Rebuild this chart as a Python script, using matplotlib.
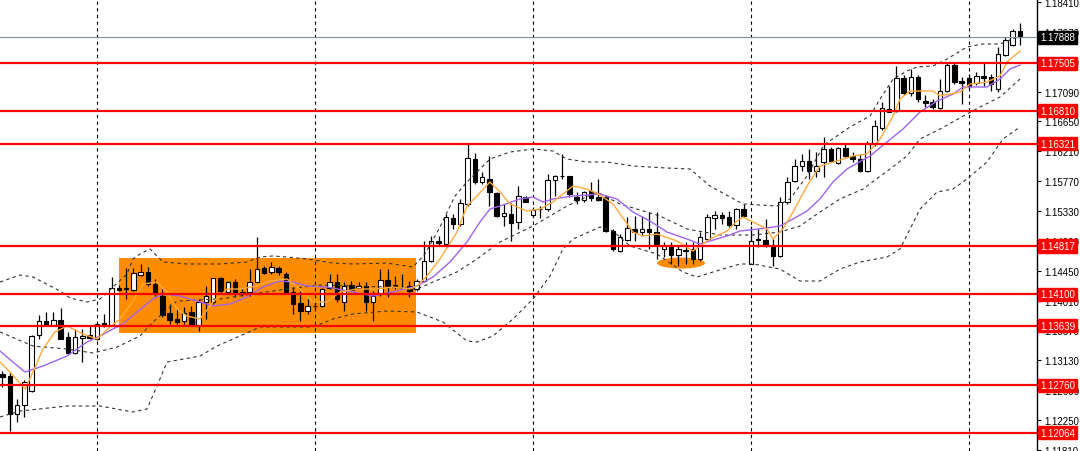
import matplotlib
matplotlib.use('Agg')
import matplotlib.pyplot as plt
import matplotlib.transforms as mtransforms
from matplotlib.patches import Rectangle, Ellipse
import numpy as np

# candle data (EURUSD style quotes), one entry per bar
opens = [1.12928, 1.12898, 1.12338, 1.12471, 1.12677, 1.13502, 1.13709, 1.13654, 1.13723, 1.13473,
         1.13237, 1.13458, 1.13502, 1.13443, 1.13679, 1.13650, 1.14202, 1.14180, 1.14170, 1.14387,
         1.14435, 1.14254, 1.14077, 1.13827, 1.13738, 1.13713, 1.13841, 1.13650, 1.13989, 1.13989,
         1.14342, 1.14140, 1.14288, 1.14107, 1.14136, 1.14288, 1.14485, 1.14426, 1.14490, 1.14401,
         1.14132, 1.13974, 1.13860, 1.13937, 1.13934, 1.14191, 1.14279, 1.13993, 1.14239, 1.14195,
         1.14229, 1.13993, 1.14107, 1.14317, 1.14239, 1.14195, 1.14220, 1.14180, 1.14303, 1.14597,
         1.14892, 1.14843, 1.15222, 1.15138, 1.15433, 1.16096, 1.15762, 1.15801, 1.15595, 1.15252,
         1.15286, 1.15163, 1.15541, 1.15271, 1.15355, 1.15359, 1.15791, 1.15841, 1.15850, 1.15532,
         1.15496, 1.15629, 1.15532, 1.15532, 1.15039, 1.14745, 1.14907, 1.15065, 1.15016, 1.15065,
         1.15025, 1.14770, 1.14795, 1.14681, 1.14748, 1.14770, 1.14622, 1.14917, 1.15231, 1.15271,
         1.15237, 1.15123, 1.15359, 1.14549, 1.14910, 1.14907, 1.14818, 1.14671, 1.15458, 1.15776,
         1.15997, 1.16071, 1.15924, 1.16047, 1.16243, 1.16037, 1.16254, 1.16136, 1.16096, 1.15924,
         1.16317, 1.16549, 1.16793, 1.16808, 1.17285, 1.17069, 1.17300, 1.16955, 1.16932, 1.16843,
         1.17103, 1.17481, 1.17250, 1.17285, 1.17216, 1.17315, 1.17300, 1.17128, 1.17629, 1.17776,
         1.17987]
highs = [1.12972, 1.12957, 1.12559, 1.12839, 1.13502, 1.13797, 1.13841, 1.13841, 1.13900, 1.13547,
         1.13591, 1.13591, 1.13650, 1.13679, 1.13812, 1.14357, 1.14239, 1.14490, 1.14490, 1.14549,
         1.14504, 1.14328, 1.14180, 1.13959, 1.13886, 1.13915, 1.13930, 1.14033, 1.14225, 1.14342,
         1.14357, 1.14303, 1.14328, 1.14180, 1.14475, 1.14947, 1.14524, 1.14574, 1.14524, 1.14431,
         1.14210, 1.14155, 1.14033, 1.13989, 1.14191, 1.14401, 1.14401, 1.14279, 1.14303, 1.14279,
         1.14279, 1.14155, 1.14475, 1.14475, 1.14376, 1.14401, 1.14303, 1.14328, 1.14892, 1.14957,
         1.14966, 1.15286, 1.15286, 1.15507, 1.16317, 1.16185, 1.15900, 1.16145, 1.15605, 1.15433,
         1.15448, 1.15694, 1.15555, 1.15384, 1.15408, 1.15875, 1.15860, 1.16170, 1.15850, 1.15605,
         1.15629, 1.15753, 1.15801, 1.15555, 1.15065, 1.14991, 1.15237, 1.15261, 1.15261, 1.15311,
         1.15311, 1.14869, 1.14869, 1.14818, 1.14869, 1.14869, 1.15016, 1.15286, 1.15334, 1.15311,
         1.15334, 1.15370, 1.15433, 1.15113, 1.15065, 1.15212, 1.14917, 1.15532, 1.15826, 1.16096,
         1.16170, 1.16243, 1.16195, 1.16416, 1.16269, 1.16269, 1.16317, 1.16195, 1.16170, 1.16366,
         1.16675, 1.16932, 1.17176, 1.17471, 1.17334, 1.17422, 1.17334, 1.17039, 1.16980, 1.17275,
         1.17521, 1.17521, 1.17300, 1.17349, 1.17374, 1.17521, 1.17349, 1.17742, 1.17890, 1.18012,
         1.18100]
lows = [1.12736, 1.12088, 1.12220, 1.12294, 1.12662, 1.13443, 1.13635, 1.13650, 1.13443, 1.13222,
        1.13222, 1.13105, 1.13443, 1.13429, 1.13620, 1.13635, 1.14151, 1.14033, 1.14151, 1.14372,
        1.14225, 1.14077, 1.13768, 1.13665, 1.13665, 1.13665, 1.13650, 1.13561, 1.13738, 1.13959,
        1.14107, 1.14132, 1.14062, 1.14082, 1.14082, 1.14283, 1.14401, 1.14401, 1.14387, 1.14121,
        1.13812, 1.13713, 1.13812, 1.13886, 1.13911, 1.14180, 1.13989, 1.13860, 1.14155, 1.14180,
        1.13860, 1.13713, 1.14082, 1.14058, 1.14180, 1.14180, 1.14058, 1.14155, 1.14283, 1.14574,
        1.14818, 1.14818, 1.15065, 1.15113, 1.15408, 1.15728, 1.15728, 1.15408, 1.15237, 1.15113,
        1.14892, 1.15065, 1.15458, 1.15237, 1.15222, 1.15334, 1.15555, 1.15801, 1.15532, 1.15433,
        1.15458, 1.15482, 1.15482, 1.15016, 1.14745, 1.14721, 1.14892, 1.14892, 1.14966, 1.14770,
        1.14622, 1.14647, 1.14549, 1.14524, 1.14549, 1.14549, 1.14597, 1.14892, 1.15065, 1.15138,
        1.15090, 1.15065, 1.15237, 1.14549, 1.14795, 1.14795, 1.14524, 1.14647, 1.15433, 1.15753,
        1.15924, 1.15801, 1.15826, 1.15826, 1.16047, 1.16022, 1.16121, 1.16047, 1.15900, 1.15900,
        1.16292, 1.16528, 1.16784, 1.16784, 1.17039, 1.17020, 1.16941, 1.16858, 1.16833, 1.16833,
        1.17079, 1.17201, 1.16907, 1.17128, 1.17187, 1.17176, 1.17103, 1.17088, 1.17610, 1.17766,
        1.17776]
closes = [1.12883, 1.12338, 1.12471, 1.12810, 1.13488, 1.13709, 1.13650, 1.13719, 1.13443, 1.13237,
          1.13473, 1.13488, 1.13458, 1.13665, 1.13635, 1.14195, 1.14170, 1.14195, 1.14416, 1.14435,
          1.14254, 1.14107, 1.13797, 1.13723, 1.13694, 1.13827, 1.13650, 1.13993, 1.14077, 1.14342,
          1.14151, 1.14288, 1.14107, 1.14140, 1.14283, 1.14475, 1.14416, 1.14500, 1.14431, 1.14132,
          1.13959, 1.13860, 1.13925, 1.13934, 1.14180, 1.14279, 1.14033, 1.14229, 1.14170, 1.14229,
          1.13993, 1.14073, 1.14317, 1.14229, 1.14229, 1.14191, 1.14155, 1.14303, 1.14597, 1.14892,
          1.14858, 1.15237, 1.15138, 1.15448, 1.16106, 1.15762, 1.15826, 1.15605, 1.15252, 1.15300,
          1.15153, 1.15546, 1.15467, 1.15349, 1.15359, 1.15791, 1.15841, 1.15845, 1.15580, 1.15496,
          1.15605, 1.15517, 1.15496, 1.15039, 1.14770, 1.14942, 1.15075, 1.15016, 1.15065, 1.15025,
          1.14843, 1.14810, 1.14681, 1.14770, 1.14745, 1.14622, 1.14942, 1.15237, 1.15271, 1.15231,
          1.15123, 1.15359, 1.15261, 1.14892, 1.14907, 1.14818, 1.14671, 1.15458, 1.15762, 1.15997,
          1.16071, 1.15924, 1.15997, 1.16243, 1.16071, 1.16254, 1.16145, 1.16096, 1.15924, 1.16317,
          1.16587, 1.16843, 1.16833, 1.17285, 1.17069, 1.17300, 1.16980, 1.16921, 1.16858, 1.17103,
          1.17481, 1.17226, 1.17216, 1.17176, 1.17315, 1.17285, 1.17201, 1.17644, 1.17854, 1.17987,
          1.17888]

# bollinger bands (dashed), x in bar numbers
upper_idx = [-0.34, 2.41, 4.20, 7.91, 9.29, 11.63, 13.42, 15.21, 17.13, 17.96, 18.92, 20.30, 22.09, 25.39,
             29.93, 33.64, 35.43, 37.22, 39.15, 41.90, 45.48, 48.23, 52.91, 56.49, 58.14, 60.20, 62.27,
             63.92, 67.08, 69.84, 73.00, 75.75, 77.68, 80.43, 83.18, 86.76, 91.44, 94.61, 97.36, 101.90,
             106.58, 108.37, 110.71, 113.0, 116.62, 119.38, 120.76, 122.55, 124.47, 125.85, 128.06,
             129.98, 132.73, 134.93, 137.27, 140.02]
upper_val = [1.14283, 1.14387, 1.14357, 1.14151, 1.14048, 1.13989, 1.14033, 1.14210, 1.14401, 1.14622,
             1.14696, 1.14770, 1.14578, 1.14549, 1.14549, 1.14578, 1.14652, 1.14667, 1.14652, 1.14622,
             1.14563, 1.14549, 1.14563, 1.14504, 1.14696, 1.15094, 1.15551, 1.15757, 1.16096, 1.16199,
             1.16243, 1.16214, 1.16096, 1.16052, 1.16052, 1.15993, 1.15963, 1.15949, 1.15698, 1.15433,
             1.15403, 1.15507, 1.15845, 1.16300, 1.16568, 1.16730, 1.16980, 1.17275, 1.17393, 1.17452,
             1.17467, 1.17570, 1.17747, 1.17791, 1.17791, 1.17909]
mid_idx = [-0.34, 4.20, 8.88, 12.45, 15.76, 18.92, 20.71, 24.01, 29.93, 34.47, 39.15, 43.69, 48.23, 52.91,
           57.04, 59.24, 62.54, 65.29, 68.46, 73.00, 77.68, 81.81, 84.97, 90.48, 94.19, 98.74, 103.28,
           106.99, 109.74, 112.49, 115.25, 118.42, 122.13, 124.47, 126.27, 129.02, 132.73, 134.52,
           137.27, 140.02]
mid_val = [1.13547, 1.13340, 1.13296, 1.13237, 1.13325, 1.13488, 1.13694, 1.14003, 1.14033, 1.14107,
           1.14180, 1.14239, 1.14225, 1.14210, 1.14180, 1.14283, 1.14431, 1.14622, 1.14873, 1.15109,
           1.15403, 1.15610, 1.15433, 1.15256, 1.15065, 1.14976, 1.14976, 1.15020, 1.15109, 1.15315,
           1.15507, 1.15654, 1.15949, 1.16140, 1.16391, 1.16538, 1.16759, 1.16862, 1.17010, 1.17275]
lower_idx = [-0.34, 2.41, 8.88, 13.42, 17.96, 19.88, 21.26, 22.64, 27.18, 29.52, 31.72, 35.43, 42.73,
             45.48, 48.23, 52.91, 57.04, 60.62, 63.92, 65.29, 67.50, 70.25, 73.00, 75.34, 77.13, 78.51,
             82.22, 84.01, 86.35, 90.07, 93.64, 95.57, 97.77, 101.49, 103.28, 106.99, 109.74, 112.49,
             115.25, 118.00, 121.72, 123.51, 124.89, 126.27, 128.61, 130.81, 132.73, 135.48, 137.68,
             140.02]
lower_val = [1.12294, 1.12382, 1.12456, 1.12456, 1.12368, 1.12412, 1.12751, 1.13104, 1.13193, 1.13340,
             1.13443, 1.13620, 1.13620, 1.13738, 1.13812, 1.13856, 1.13841, 1.13694, 1.13414, 1.13399,
             1.13488, 1.13738, 1.14033, 1.14372, 1.14770, 1.14917, 1.15094, 1.15035, 1.14814, 1.14696,
             1.14431, 1.14357, 1.14431, 1.14549, 1.14549, 1.14475, 1.14298, 1.14298, 1.14475, 1.14578,
             1.14652, 1.14770, 1.15065, 1.15359, 1.15610, 1.15654, 1.15801, 1.16052, 1.16391, 1.16568]

# slow (purple) and fast (orange) moving averages
slow_idx = [-0.34, 1.44, 3.10, 5.57, 8.88, 11.63, 13.42, 15.21, 16.58, 18.51, 20.71, 22.09, 24.43, 26.77,
            28.97, 31.31, 33.64, 35.85, 38.19, 39.97, 41.90, 44.65, 48.23, 50.98, 54.28, 57.04, 59.24,
            61.58, 63.92, 65.71, 67.08, 68.46, 71.21, 73.00, 74.38, 75.75, 78.51, 82.22, 84.56, 86.76,
            89.10, 91.44, 94.19, 95.98, 97.36, 99.70, 101.49, 105.20, 106.99, 108.78, 110.71, 112.49,
            114.28, 116.21, 119.38, 121.72, 123.92, 126.27, 128.61, 130.81, 132.18, 135.48, 137.27,
            138.64, 140.02]
slow_val = [1.13266, 1.13104, 1.12957, 1.13045, 1.13193, 1.13399, 1.13488, 1.13591, 1.13665, 1.13841,
            1.14033, 1.14107, 1.14077, 1.14003, 1.13930, 1.13959, 1.14062, 1.14210, 1.14298, 1.14283,
            1.14225, 1.14210, 1.14136, 1.14077, 1.14151, 1.14225, 1.14357, 1.14578, 1.14873, 1.15168,
            1.15359, 1.15403, 1.15507, 1.15536, 1.15462, 1.15507, 1.15551, 1.15580, 1.15507, 1.15315,
            1.15182, 1.15020, 1.14917, 1.14843, 1.14888, 1.14961, 1.15035, 1.15079, 1.15109, 1.15212,
            1.15330, 1.15507, 1.15757, 1.15949, 1.16140, 1.16347, 1.16538, 1.16789, 1.16951, 1.17054,
            1.17157, 1.17157, 1.17275, 1.17422, 1.17481]
fast_idx = [-0.34, 1.03, 3.10, 4.20, 5.57, 7.22, 8.88, 11.08, 13.00, 14.79, 16.17, 17.96, 19.33, 21.26,
            22.64, 24.01, 25.39, 27.18, 28.97, 30.89, 32.68, 35.02, 36.81, 39.15, 40.94, 42.73, 44.65,
            46.44, 48.78, 51.53, 53.73, 56.08, 57.04, 58.41, 60.20, 62.54, 63.92, 65.29, 67.08, 68.46,
            69.84, 72.18, 73.97, 75.75, 78.51, 80.43, 82.22, 84.01, 86.76, 88.14, 90.07, 92.82, 95.02,
            95.98, 97.36, 99.70, 101.07, 101.90, 103.28, 105.20, 106.03, 107.40, 108.78, 110.71, 112.49,
            114.83, 117.04, 118.97, 120.76, 122.55, 123.51, 124.89, 128.06, 129.02, 131.77, 133.14,
            135.48, 137.27, 138.23, 140.02]
fast_val = [1.13104, 1.12957, 1.12707, 1.12957, 1.13296, 1.13547, 1.13635, 1.13517, 1.13443, 1.13620,
            1.13738, 1.14003, 1.14254, 1.14283, 1.14136, 1.13886, 1.13782, 1.13738, 1.13989, 1.14180,
            1.14180, 1.14225, 1.14298, 1.14328, 1.14180, 1.13989, 1.13989, 1.14136, 1.14180, 1.14180,
            1.14210, 1.14180, 1.14225, 1.14372, 1.14622, 1.15020, 1.15403, 1.15551, 1.15757, 1.15610,
            1.15433, 1.15330, 1.15359, 1.15462, 1.15698, 1.15654, 1.15566, 1.15433, 1.15020, 1.14961,
            1.14991, 1.14888, 1.14740, 1.14814, 1.14917, 1.15035, 1.15182, 1.15241, 1.15168, 1.15065,
            1.14917, 1.15065, 1.15315, 1.15698, 1.15993, 1.16067, 1.16140, 1.16170, 1.16391, 1.16730,
            1.16980, 1.17098, 1.17098, 1.17025, 1.17083, 1.17201, 1.17231, 1.17319, 1.17526, 1.17688]

levels = [1.17505, 1.16810, 1.16321, 1.14817, 1.14100, 1.13639, 1.12760, 1.12064]
last_price = 1.17888
y_ticks = [1.18410, 1.17970, 1.17530, 1.17090, 1.16650, 1.16210, 1.15770, 1.15330,
           1.14890, 1.14450, 1.14010, 1.13570, 1.13130, 1.12690, 1.12250, 1.11810]
separators = [13, 43, 73, 103, 133]

# highlighted range box and the marked low
range_bars = (16.03, 56.90)
range_prices = (1.13532, 1.14637)
low_mark = (93.37, 1.14563)


def main():
    plt.rcParams['font.family'] = ['Liberation Sans', 'DejaVu Sans']
    fig = plt.figure(figsize=(10.8, 4.52), dpi=100)
    ax = fig.add_axes([0, 0, 1037 / 1080, 1])
    ax.set_xlim(-0.344, 142.36)
    ax.set_ylim(1.11793, 1.18454)

    ax.add_patch(Rectangle((range_bars[0], range_prices[0]), range_bars[1] - range_bars[0],
                           range_prices[1] - range_prices[0], facecolor='#ff8c00', edgecolor='none', zorder=1))
    ax.add_patch(Ellipse(low_mark, 6.6, 0.00162, facecolor='#ff8c00', edgecolor='none', zorder=1))

    for s in separators:
        ax.axvline(s, color='black', lw=0.8, ls=(0, (3, 3)), zorder=1.5)

    idx = np.arange(len(opens))
    o, h, l, c = map(np.array, (opens, highs, lows, closes))
    up = c >= o
    ax.vlines(idx, l, h, color='black', lw=0.9, zorder=3)
    body = np.maximum(np.abs(c - o), 0.00002)
    ax.bar(idx, body, bottom=np.minimum(o, c), width=0.62,
           color=np.where(up, 'white', 'black'), edgecolor='black', lw=0.8, zorder=4)

    dash = (0, (3, 3))
    for xs, ys in ((upper_idx, upper_val), (mid_idx, mid_val), (lower_idx, lower_val)):
        ax.plot(xs, ys, color='#333333', lw=0.8, ls=dash, zorder=5)
    ax.plot(slow_idx, slow_val, color='#a062f0', lw=1.0, zorder=5)
    ax.plot(fast_idx, fast_val, color='#ffaa3c', lw=1.0, zorder=5)

    ax.axhline(last_price, color='#7d8fa0', lw=0.8, zorder=5)
    for lv in levels:
        ax.axhline(lv, color='red', lw=1.6, zorder=6)

    tr = ax.get_yaxis_transform()
    for lv in levels:
        ax.text(1040 / 1037, lv, f'{lv:.5f}', transform=tr, color='white', fontsize=7,
                ha='left', va='center', clip_on=False, zorder=10,
                bbox=dict(boxstyle='square,pad=0.18', fc='red', ec='red'))
    ax.text(1040 / 1037, last_price, f'{last_price:.5f}', transform=tr, color='white', fontsize=7,
            ha='left', va='center', clip_on=False, zorder=10,
            bbox=dict(boxstyle='square,pad=0.18', fc='black', ec='black'))

    for side in ('left', 'top', 'bottom'):
        ax.spines[side].set_visible(False)
    ax.spines['right'].set_color('black')
    ax.spines['right'].set_linewidth(1.0)
    ax.set_xticks([])
    ax.yaxis.tick_right()
    ax.set_yticks(y_ticks)
    ax.set_yticklabels([f'{v:.5f}' for v in y_ticks])
    ax.tick_params(axis='y', length=3, width=0.8, pad=2, labelsize=7, colors='black')

    fig.savefig('out.png', dpi=100)
    plt.close()


if __name__ == '__main__':
    main()
